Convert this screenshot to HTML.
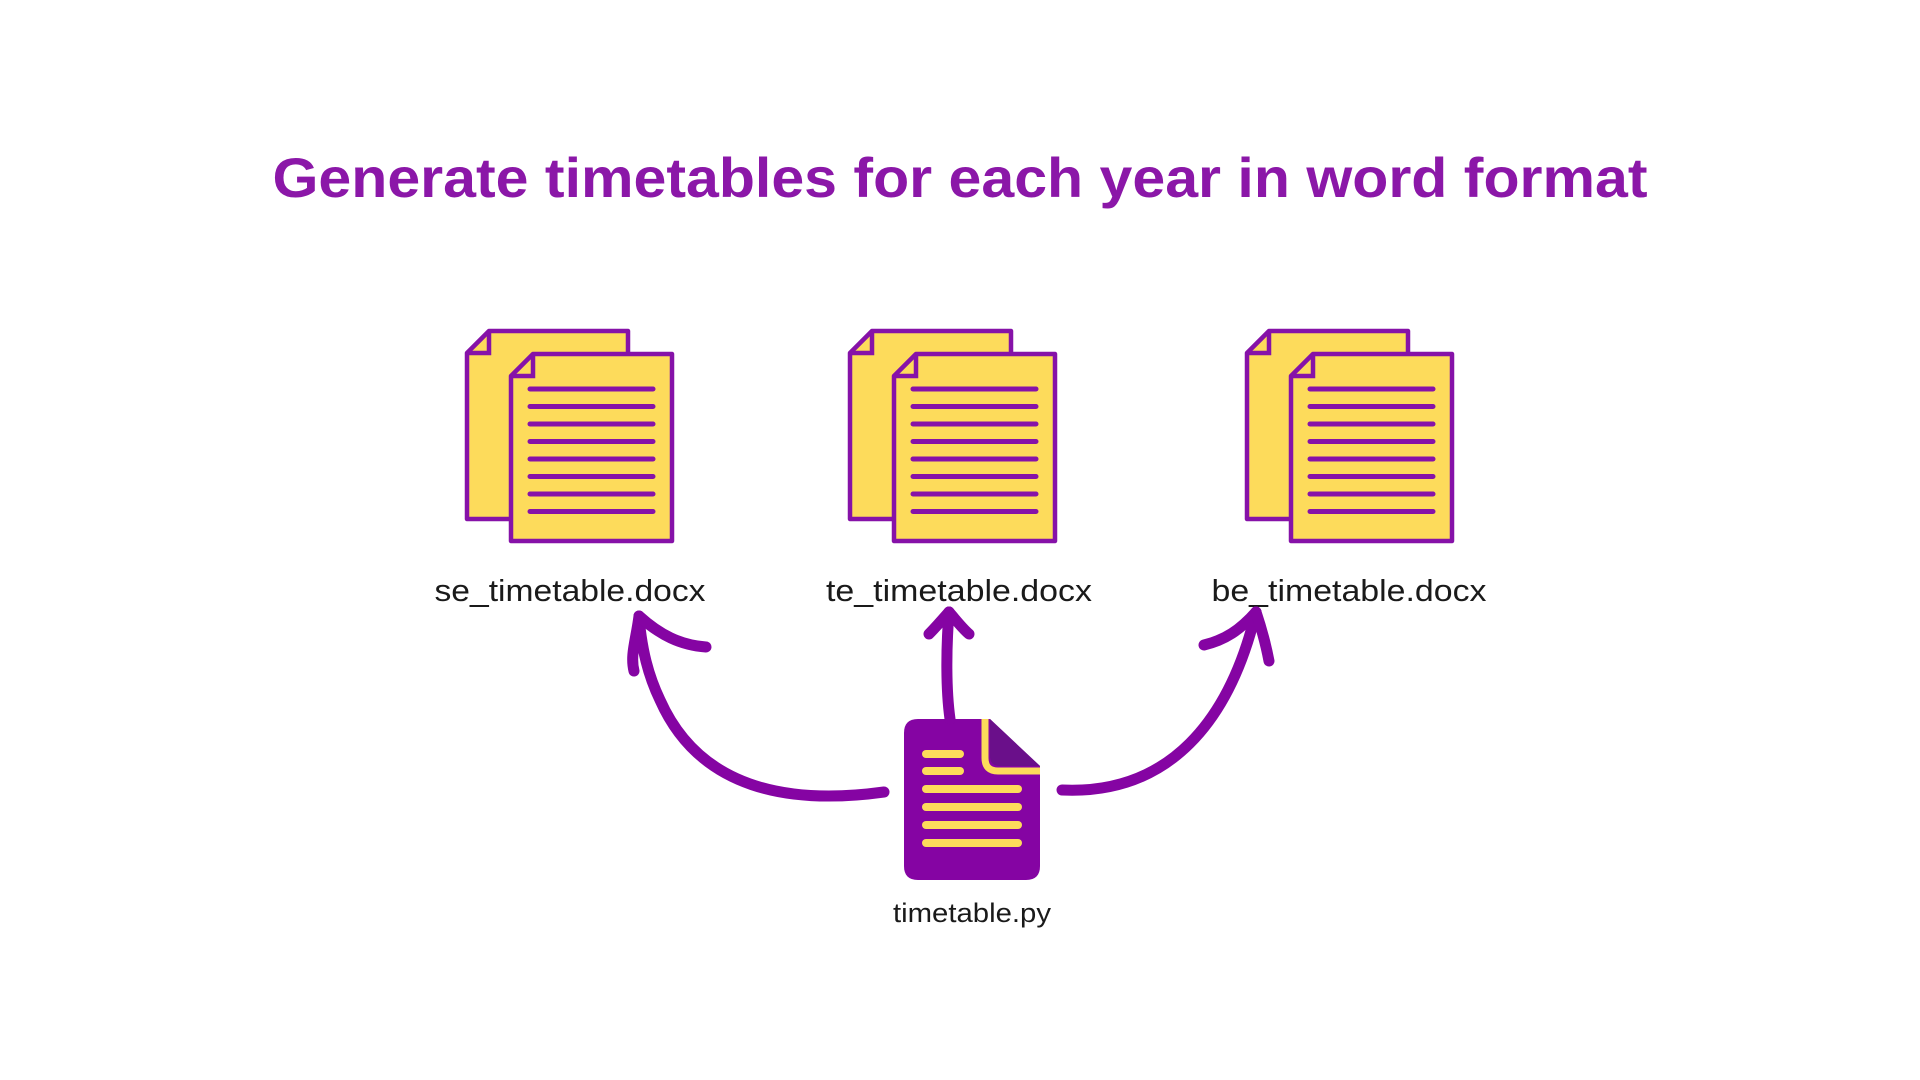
<!DOCTYPE html>
<html><head><meta charset="utf-8"><style>
html,body{margin:0;padding:0;background:#fff;}
svg{display:block;}
</style></head><body>
<svg width="1920" height="1080" viewBox="0 0 1920 1080" xmlns="http://www.w3.org/2000/svg">
<defs>
<g id="doc">
  <path d="M467,353 L489,331 L628,331 L628,519 L467,519 Z" fill="#FDDB5B" stroke="#8612A8" stroke-width="4.5" stroke-linejoin="round"/>
  <path d="M467,353 L489,353 L489,331" fill="none" stroke="#8612A8" stroke-width="4.5"/>
  <path d="M511,376 L533,354 L672,354 L672,541 L511,541 Z" fill="#FDDB5B" stroke="#8612A8" stroke-width="4.5" stroke-linejoin="round"/>
  <path d="M511,376 L533,376 L533,354" fill="none" stroke="#8612A8" stroke-width="4.5"/>
  <g stroke="#8612A8" stroke-width="5" stroke-linecap="round">
    <line x1="530" y1="389" x2="653" y2="389"/>
    <line x1="530" y1="406.5" x2="653" y2="406.5"/>
    <line x1="530" y1="424" x2="653" y2="424"/>
    <line x1="530" y1="441.5" x2="653" y2="441.5"/>
    <line x1="530" y1="459" x2="653" y2="459"/>
    <line x1="530" y1="476.5" x2="653" y2="476.5"/>
    <line x1="530" y1="494" x2="653" y2="494"/>
    <line x1="530" y1="511.5" x2="653" y2="511.5"/>
  </g>
</g>
</defs>
<text x="960" y="197" text-anchor="middle" font-family="Liberation Sans, sans-serif" font-weight="bold" font-size="56" fill="#8B17A8" textLength="1375" lengthAdjust="spacingAndGlyphs">Generate timetables for each year in word format</text>

<use href="#doc"/>
<use href="#doc" transform="translate(383,0)"/>
<use href="#doc" transform="translate(780,0)"/>

<g font-family="Liberation Sans, sans-serif" font-size="31" fill="#1a1a1a" text-anchor="middle">
<text x="570" y="601" textLength="271" lengthAdjust="spacingAndGlyphs">se_timetable.docx</text>
<text x="959" y="601" textLength="266" lengthAdjust="spacingAndGlyphs">te_timetable.docx</text>
<text x="1349" y="601" textLength="275" lengthAdjust="spacingAndGlyphs">be_timetable.docx</text>
<text x="972" y="922" font-size="27" textLength="158" lengthAdjust="spacingAndGlyphs">timetable.py</text>
</g>

<!-- python file -->
<path d="M918,719 L990,719 L1040,766 L1040,866 Q1040,880 1026,880 L918,880 Q904,880 904,866 L904,733 Q904,719 918,719 Z" fill="#8504A3"/>
<path d="M990,719 L1040,766 L1000,766 Q990,766 990,756 Z" fill="#6A0F8A"/>
<path d="M985,719 L985,758 Q985,771 998,771 L1040,771" fill="none" stroke="#FDDB5B" stroke-width="7"/>
<g stroke="#FDDB5B" stroke-width="8" stroke-linecap="round">
<line x1="926" y1="754" x2="960" y2="754"/>
<line x1="926" y1="771" x2="960" y2="771"/>
<line x1="926" y1="789" x2="1018" y2="789"/>
<line x1="926" y1="807" x2="1018" y2="807"/>
<line x1="926" y1="825" x2="1018" y2="825"/>
<line x1="926" y1="843" x2="1018" y2="843"/>
</g>

<!-- arrows -->
<g fill="none" stroke="#8504A3" stroke-width="11" stroke-linecap="round" stroke-linejoin="round">
<path d="M884,792 C790,805 700,790 660,700 C648,675 642,650 639,618"/>
<path d="M639,616 C636,640 630,655 634,671"/>
<path d="M639,616 C660,635 680,645 706,647"/>
<path d="M950,719 C946,690 946,650 949,612"/>
<path d="M949,612 C942,620 935,628 929,634"/>
<path d="M949,612 C956,620 962,628 969,634"/>
<path d="M1062,790 C1170,795 1230,720 1256,612"/>
<path d="M1256,612 C1240,630 1225,640 1204,645"/>
<path d="M1256,612 C1262,630 1266,645 1269,661"/>
</g>
</svg>
</body></html>
